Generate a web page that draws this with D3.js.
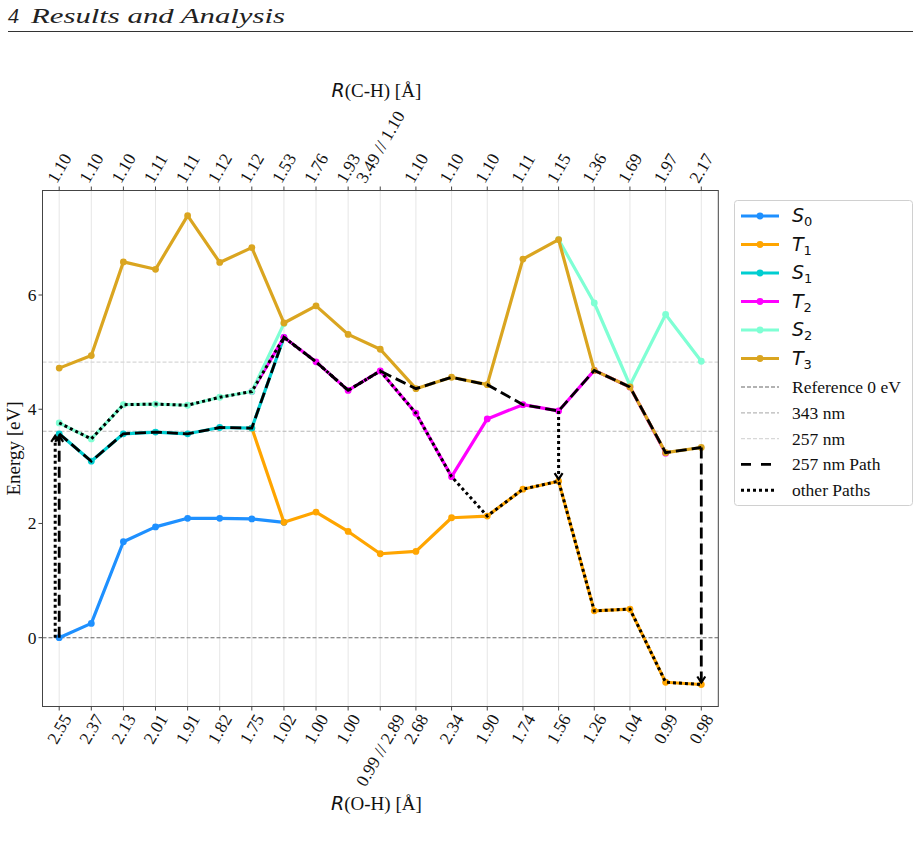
<!DOCTYPE html>
<html>
<head>
<meta charset="utf-8">
<script src="https://cdn.jsdelivr.net/npm/d3@7"></script>
<style>
  html, body { margin: 0; padding: 0; background: #fff; }
  svg { display: block; }
</style>
</head>
<body>
<svg id="chart" width="921" height="843"></svg>
<script>
// ---------------- DATA ----------------
const labelsOH = ["2.55","2.37","2.13","2.01","1.91","1.82","1.75","1.02","1.00","1.00","0.99 // 2.89","2.68","2.34","1.90","1.74","1.56","1.26","1.04","0.99","0.98"];
const labelsCH = ["1.10","1.10","1.10","1.11","1.11","1.12","1.12","1.53","1.76","1.93","3.49 // 1.10","1.10","1.10","1.10","1.11","1.15","1.36","1.69","1.97","2.17"];

const S0 = [0.00,0.25,1.68,1.94,2.09,2.09,2.08,2.02,null,null,null,null,null,null,null,null,null,null,null,null];
const T1 = [null,null,null,null,null,null,3.67,2.02,2.20,1.86,1.47,1.51,2.10,2.13,2.60,2.74,0.47,0.50,-0.78,-0.82];
const S1 = [3.57,3.09,3.57,3.60,3.57,3.68,3.67,5.26,null,null,null,null,null,null,null,null,null,null,null,null];
const T2 = [null,null,null,null,null,null,4.31,5.26,4.83,4.33,4.67,3.93,2.82,3.83,4.08,3.97,4.68,4.39,3.23,null];
const S2 = [3.76,3.48,4.08,4.09,4.07,4.21,4.31,5.50,null,null,null,null,null,null,null,6.97,5.86,4.42,5.66,4.84];
const T3 = [4.72,4.94,6.58,6.45,7.39,6.57,6.83,5.51,5.81,5.31,5.05,4.36,4.56,4.43,6.63,6.97,4.68,4.39,3.24,3.33];

const seriesNames = ["S0","T1","S1","T2","S2","T3"];
const seriesColors = ["#1E90FF","#FFA500","#00CED1","#FF00FF","#7FFFD4","#DAA520"];

// horizontal reference energies (eV)
const refLines = [
  {label: "Reference 0 eV", value: 0},
  {label: "343 nm", value: 1239.84 / 343},
  {label: "257 nm", value: 1239.84 / 257}
];

// which state the paths follow at each geometry
const path257 = ["S1","S1","S1","S1","S1","S1","S1","T2","T2","T2","T2","T3","T3","T3","T2","T2","T3","T3","T3","T3"];
const pathOther = ["S2","S2","S2","S2","S2","S2","S2","T2","T2","T2","T2","T2","T2","T1","T1","T1","T1","T1","T1","T1"];

// vertical transitions (arrows)
const arrows = [
  {index: 0, from: "S0", to: "S1", kind: "dashed"},
  {index: 0, from: "S0", to: "S1", kind: "dotted", shift: -4},
  {index: 15, from: "T2", to: "T1", kind: "dotted"},
  {index: 19, from: "T3", to: "T1", kind: "dashed"}
];

const yTicks = [0, 2, 4, 6];

// ---------------- DRAW ----------------
const series = {S0, T1, S1, T2, S2, T3};
const svg = d3.select("#chart");
const serif = "'Liberation Serif', 'Times New Roman', serif";
const mathFont = "'DejaVu Sans', sans-serif";

// header
svg.append("text").attr("x", 8).attr("y", 23)
  .attr("font-family", serif).attr("font-style", "italic").attr("font-size", 22)
  .attr("fill", "#222").text("4");
svg.append("text").attr("x", 31).attr("y", 23)
  .attr("font-family", serif).attr("font-style", "italic").attr("font-size", 22)
  .attr("textLength", 254).attr("lengthAdjust", "spacingAndGlyphs")
  .attr("fill", "#222").text("Results and Analysis");
svg.append("line").attr("x1", 8).attr("x2", 913).attr("y1", 31.5).attr("y2", 31.5)
  .attr("stroke", "#333").attr("stroke-width", 1);

const frame = {left: 42.5, right: 718.3, top: 190.5, bottom: 706.5};

// geometry coordinate: the two halves of the scan have different spacing
const xCoord = labelsOH.map((d, i) => i <= 10 ? i : 10 + (i - 10) * 10 / 9);
const x = d3.scaleLinear().domain([-0.52, 20.53]).range([frame.left, frame.right]);
const y = d3.scaleLinear().domain([-1.205, 7.83]).range([frame.bottom, frame.top]);

const g = svg.append("g");

// clip
svg.append("defs").append("clipPath").attr("id", "clip")
  .append("rect").attr("x", frame.left).attr("y", frame.top)
  .attr("width", frame.right - frame.left).attr("height", frame.bottom - frame.top);

const plot = g.append("g").attr("clip-path", "url(#clip)");

// vertical grid
plot.selectAll("line.grid").data(xCoord).join("line")
  .attr("class", "grid")
  .attr("x1", d => x(d)).attr("x2", d => x(d))
  .attr("y1", frame.top).attr("y2", frame.bottom)
  .attr("stroke", "#e6e6e6").attr("stroke-width", 1);

// reference lines
const refStyles = [
  {stroke: "#666", width: 1.1},
  {stroke: "#b8b8b8", width: 1.2},
  {stroke: "#d8d8d8", width: 1.2}
];
refLines.forEach((r, i) => {
  plot.append("line")
    .attr("x1", frame.left).attr("x2", frame.right)
    .attr("y1", y(r.value)).attr("y2", y(r.value))
    .attr("stroke", refStyles[i].stroke).attr("stroke-width", refStyles[i].width)
    .attr("stroke-dasharray", "4,2");
});

// series lines
const line = d3.line()
  .defined(d => d.v !== null)
  .x(d => x(d.x)).y(d => y(d.v));

seriesNames.forEach((name, si) => {
  const pts = series[name].map((v, i) => ({x: xCoord[i], v}));
  plot.append("path").datum(pts)
    .attr("d", line)
    .attr("fill", "none").attr("stroke", seriesColors[si])
    .attr("stroke-width", 3.2).attr("stroke-linejoin", "round").attr("stroke-linecap", "round");
  plot.selectAll(null).data(pts.filter(d => d.v !== null)).join("circle")
    .attr("cx", d => x(d.x)).attr("cy", d => y(d.v)).attr("r", 3.4)
    .attr("fill", seriesColors[si]);
});

// paths
const pathStyles = {
  dashed: {dash: "11,5", width: 2.8},
  dotted: {dash: "3,3", width: 3}
};
function followPath(states) {
  return states.map((s, i) => ({x: xCoord[i], v: series[s][i]}));
}
plot.append("path").datum(followPath(pathOther)).attr("d", line)
  .attr("fill", "none").attr("stroke", "#000")
  .attr("stroke-width", pathStyles.dotted.width).attr("stroke-dasharray", pathStyles.dotted.dash);
plot.append("path").datum(followPath(path257)).attr("d", line)
  .attr("fill", "none").attr("stroke", "#000")
  .attr("stroke-width", pathStyles.dashed.width).attr("stroke-dasharray", pathStyles.dashed.dash);

// arrows
arrows.forEach(a => {
  const xs = x(xCoord[a.index]) + (a.shift || 0);
  const y0 = y(series[a.from][a.index]);
  const y1 = y(series[a.to][a.index]);
  const dir = y1 < y0 ? -1 : 1;
  const st = pathStyles[a.kind];
  plot.append("line")
    .attr("x1", xs).attr("x2", xs).attr("y1", y0).attr("y2", y1 - dir * 2)
    .attr("stroke", "#000").attr("stroke-width", st.width)
    .attr("stroke-dasharray", st.dash);
  const tipY = y1 - dir * 2;
  plot.append("path")
    .attr("d", `M${xs - 4},${tipY - dir * 6} L${xs},${tipY} L${xs + 4},${tipY - dir * 6}`)
    .attr("fill", "none").attr("stroke", "#000").attr("stroke-width", 2.2);
});

// frame
g.append("rect")
  .attr("x", frame.left).attr("y", frame.top)
  .attr("width", frame.right - frame.left).attr("height", frame.bottom - frame.top)
  .attr("fill", "none").attr("stroke", "#444").attr("stroke-width", 1);

// bottom/top axis ticks and labels
const tickFS = 17.5;
xCoord.forEach((xc, i) => {
  const px = x(xc);
  g.append("line").attr("x1", px).attr("x2", px).attr("y1", frame.bottom).attr("y2", frame.bottom + 4)
    .attr("stroke", "#444").attr("stroke-width", 1);
  g.append("line").attr("x1", px).attr("x2", px).attr("y1", frame.top).attr("y2", frame.top - 4)
    .attr("stroke", "#444").attr("stroke-width", 1);

  const tb = g.append("text")
    .attr("font-family", serif).attr("font-size", tickFS).attr("fill", "#111")
    .attr("text-anchor", "end").attr("dominant-baseline", "central")
    .text(labelsOH[i]);
  const wb = tb.node().getComputedTextLength();
  const t = tickFS * 0.36;
  const axb = px + wb / 4;
  const ayb = frame.bottom + 6 + 0.5 * t;
  tb.attr("transform", `translate(${axb},${ayb}) rotate(-60)`);

  const tt = g.append("text")
    .attr("font-family", serif).attr("font-size", tickFS).attr("fill", "#111")
    .attr("text-anchor", "start").attr("dominant-baseline", "central")
    .text(labelsCH[i]);
  const wt = tt.node().getComputedTextLength();
  const axt = px - wt / 4;
  const ayt = frame.top - 6 - 0.5 * t;
  tt.attr("transform", `translate(${axt},${ayt}) rotate(-60)`);
});

// y axis
yTicks.forEach(v => {
  g.append("line").attr("x1", frame.left - 4).attr("x2", frame.left)
    .attr("y1", y(v)).attr("y2", y(v)).attr("stroke", "#444");
  g.append("text").attr("x", frame.left - 6).attr("y", y(v))
    .attr("text-anchor", "end").attr("dominant-baseline", "central")
    .attr("font-family", serif).attr("font-size", 17.5).attr("fill", "#111")
    .text(v);
});

// axis titles
function rLabel(parent, cx, cy, inner) {
  const t = parent.append("text").attr("x", cx).attr("y", cy)
    .attr("text-anchor", "middle").attr("font-size", 19).attr("fill", "#111");
  t.append("tspan").attr("font-family", mathFont).attr("font-style", "italic").text("R");
  t.append("tspan").attr("font-family", serif).text(inner);
  return t;
}
rLabel(g, (frame.left + frame.right) / 2 - 4, 97, "(C-H) [Å]");
rLabel(g, (frame.left + frame.right) / 2 - 4, 810, "(O-H) [Å]");
g.append("text")
  .attr("transform", `translate(20,${(frame.top + frame.bottom) / 2}) rotate(-90)`)
  .attr("text-anchor", "middle")
  .attr("font-family", serif).attr("font-size", 19).attr("fill", "#111")
  .text("Energy [eV]");

// legend
const leg = svg.append("g");
const legBox = {x: 734.5, y: 200.5, w: 178, h: 305};
leg.append("rect").attr("x", legBox.x).attr("y", legBox.y)
  .attr("width", legBox.w).attr("height", legBox.h).attr("rx", 3)
  .attr("fill", "#fff").attr("stroke", "#d0d0d0").attr("stroke-width", 1);

const legendEntries = [
  ...seriesNames.map((n, i) => ({type: "series", name: n, color: seriesColors[i]})),
  ...refLines.map((r, i) => ({type: "ref", name: r.label, style: refStyles[i]})),
  {type: "path", name: "257 nm Path", kind: "dashed"},
  {type: "path", name: "other Paths", kind: "dotted"}
];
let ly = 216;
const lx0 = 741, lx1 = 779, ltx = 792;
legendEntries.forEach(e => {
  if (e.type === "series") {
    leg.append("line").attr("x1", lx0).attr("x2", lx1).attr("y1", ly).attr("y2", ly)
      .attr("stroke", e.color).attr("stroke-width", 3.2);
    leg.append("circle").attr("cx", (lx0 + lx1) / 2).attr("cy", ly).attr("r", 3.4).attr("fill", e.color);
    const t = leg.append("text").attr("x", ltx).attr("y", ly + 6).attr("fill", "#111");
    t.append("tspan").attr("font-family", mathFont).attr("font-style", "italic").attr("font-size", 19)
      .text(e.name[0]);
    t.append("tspan").attr("font-family", mathFont).attr("font-size", 13).attr("dy", 4)
      .text(e.name[1]);
    ly += 28.5;
  } else {
    if (e.type === "ref") {
      leg.append("line").attr("x1", lx0).attr("x2", lx1).attr("y1", ly).attr("y2", ly)
        .attr("stroke", e.style.stroke).attr("stroke-width", e.style.width).attr("stroke-dasharray", "4,2");
    } else {
      const st = pathStyles[e.kind];
      leg.append("line").attr("x1", lx0).attr("x2", e.kind === "dashed" ? lx1 - 8 : lx1 - 4).attr("y1", ly).attr("y2", ly)
        .attr("stroke", "#000").attr("stroke-width", st.width)
        .attr("stroke-dasharray", e.kind === "dashed" ? "10,10" : st.dash);
    }
    leg.append("text").attr("x", ltx).attr("y", ly).attr("dominant-baseline", "central")
      .attr("font-family", serif).attr("font-size", 17.5).attr("fill", "#111").text(e.name);
    ly += 25.8;
  }
});
</script>
</body>
</html>
